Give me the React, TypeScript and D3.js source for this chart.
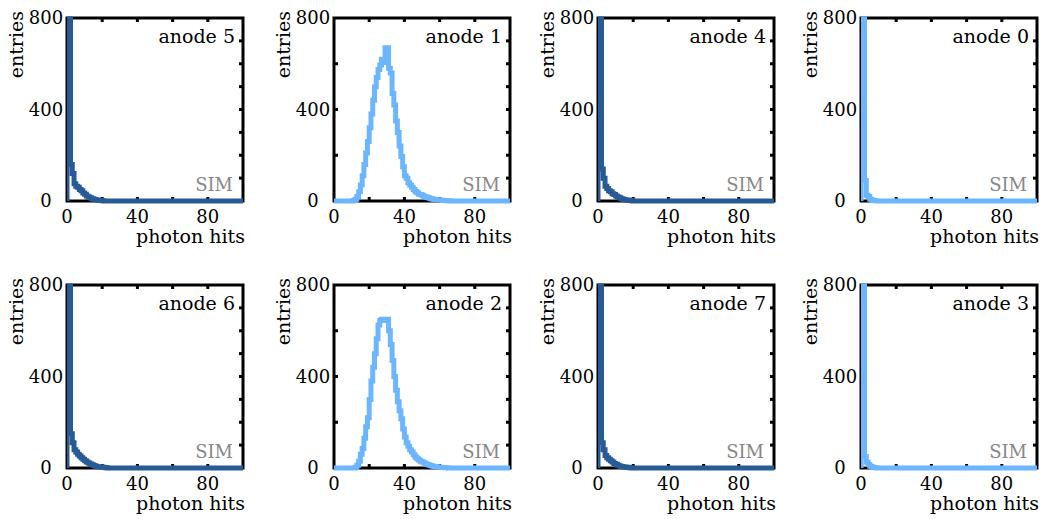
import React from "react";
import * as d3 from "d3";

// ---- data (photon-hit histograms, bin width 1, counts per bin starting at 0 hits) ----
const anodeNames = ["anode 5", "anode 1", "anode 4", "anode 0", "anode 6", "anode 2", "anode 7", "anode 3"];
const anodeKinds = ["dark", "light", "dark", "light", "dark", "light", "dark", "light"];

const anode5 = [3000, 1500, 160, 120, 75, 65, 60, 50, 45, 35, 30, 22, 18, 14, 10, 8, 6, 4, 3, 2, 1];
const anode1 = [0, 0, 0, 0, 0, 0, 0, 0, 0, 0, 0, 2, 8, 20, 40, 70, 110, 160, 210, 260, 320, 380, 440, 500, 540, 575, 595, 620, 605, 670, 670, 580, 560, 470, 420, 350, 300, 240, 195, 150, 110, 100, 80, 70, 60, 50, 42, 36, 30, 28, 24, 20, 17, 15, 12, 10, 8, 7, 6, 5, 4, 3, 2, 2, 1, 1];
const anode4 = [3000, 1200, 140, 100, 65, 55, 45, 40, 32, 28, 22, 18, 14, 10, 8, 6, 4, 3, 2, 1];
const anode0 = [3000, 1500, 90, 25, 20, 8, 4, 2, 1];
const anode6 = [3000, 1500, 150, 110, 80, 70, 60, 52, 45, 38, 32, 26, 22, 18, 14, 11, 8, 6, 5, 4, 3, 2, 1];
const anode2 = [0, 0, 0, 0, 0, 0, 0, 0, 0, 0, 0, 0, 3, 12, 30, 60, 85, 130, 180, 220, 300, 380, 440, 500, 565, 625, 645, 650, 650, 645, 650, 600, 540, 470, 400, 340, 290, 250, 215, 170, 135, 110, 95, 80, 70, 58, 48, 40, 35, 30, 26, 22, 18, 15, 12, 10, 8, 7, 6, 4, 3, 2, 2, 1, 1];
const anode7 = [3000, 1000, 110, 80, 55, 45, 38, 32, 26, 20, 16, 12, 9, 7, 5, 4, 3, 2, 1];
const anode3 = [3000, 1500, 50, 25, 15, 8, 4, 2, 1];

const series = [anode5, anode1, anode4, anode0, anode6, anode2, anode7, anode3];

const xTickLabels = [0, 40, 80];
const xTicks = [20, 40, 60, 80];
const yTickLabels = [0, 400, 800];
const yTicksLeft = [200, 400, 600];
const yTicksRight = [100, 200, 300, 400, 500, 600, 700];

// ---- layout ----
const colLefts = [67, 334, 598, 861];
const rowTops = [18, 285];
const PW = 176;
const PH = 183;
const colors: Record<string, string> = { dark: "#285a96", light: "#6cb6ff" };
const FONT = "'DejaVu Serif', serif";

function Panel({ idx }: { idx: number }) {
  const col = idx % 4;
  const row = Math.floor(idx / 4);
  const x0 = colLefts[col];
  const y0 = rowTops[row];
  const x = d3.scaleLinear().domain([0, 100]).range([x0, x0 + PW]);
  const y = d3.scaleLinear().domain([0, 800]).range([y0 + PH, y0]);
  const vals = series[idx];
  const pts: [number, number][] = [[0, 0]];
  vals.forEach((v, i) => pts.push([i, v]));
  pts.push([vals.length, 0]);
  pts.push([100, 0]);
  const line = d3
    .line<[number, number]>()
    .x((d) => x(d[0]))
    .y((d) => y(d[1]))
    .curve(d3.curveStepAfter);
  const clipId = `clip${idx}`;
  const tl = 4;
  return (
    <g>
      <defs>
        <clipPath id={clipId}>
          <rect x={x0} y={y0 - 1.5} width={PW + 1.5} height={PH + 5} />
        </clipPath>
      </defs>
      <rect x={x0} y={y0} width={PW} height={PH} fill="none" stroke="#000" strokeWidth={3} />
      {xTicks.map((t) => (
        <g key={"xt" + t}>
          <line x1={x(t)} x2={x(t)} y1={y0} y2={y0 + tl} stroke="#000" strokeWidth={3} />
          <line x1={x(t)} x2={x(t)} y1={y0 + PH} y2={y0 + PH - tl} stroke="#000" strokeWidth={3} />
        </g>
      ))}
      {yTicksLeft.map((t) => (
        <line key={"yl" + t} x1={x0} x2={x0 + tl} y1={y(t)} y2={y(t)} stroke="#000" strokeWidth={3} />
      ))}
      {yTicksRight.map((t) => (
        <line key={"yr" + t} x1={x0 + PW} x2={x0 + PW - tl} y1={y(t)} y2={y(t)} stroke="#000" strokeWidth={3} />
      ))}
      <path d={line(pts) || ""} fill="none" stroke={colors[anodeKinds[idx]]} strokeWidth={5} clipPath={`url(#${clipId})`} />
      {yTickLabels.map((t) => (
        <text key={"yl" + t} x={x0 - 21} y={y(t)} dy="0.36em" textAnchor="middle" fontFamily={FONT} fontSize={18} fill="#000">
          {t}
        </text>
      ))}
      {xTickLabels.map((t) => (
        <text key={"xl" + t} x={x(t)} y={y0 + PH + 22} textAnchor="middle" fontFamily={FONT} fontSize={18} fill="#000">
          {t}
        </text>
      ))}
      <text x={x0 + PW + 2} y={y0 + PH + 42} textAnchor="end" fontFamily={FONT} fontSize={19} fill="#000">
        photon hits
      </text>
      <text
        transform={`translate(${x0 - 44},${y0 - 7}) rotate(-90)`}
        textAnchor="end"
        fontFamily={FONT}
        fontSize={19}
        fill="#000"
      >
        entries
      </text>
      <text x={x0 + PW - 8} y={y0 + 25} textAnchor="end" fontFamily={FONT} fontSize={19} fill="#000">
        {anodeNames[idx]}
      </text>
      <text x={x0 + PW - 10} y={y0 + PH - 10} textAnchor="end" fontFamily={FONT} fontSize={18} fill="#888">
        SIM
      </text>
    </g>
  );
}

export default function App() {
  return (
    <svg
      width={1043}
      height={519}
      style={{ position: "absolute", left: 0, top: 0, display: "block", background: "#fff" }}
    >
      {series.map((_, i) => (
        <Panel key={i} idx={i} />
      ))}
    </svg>
  );
}
